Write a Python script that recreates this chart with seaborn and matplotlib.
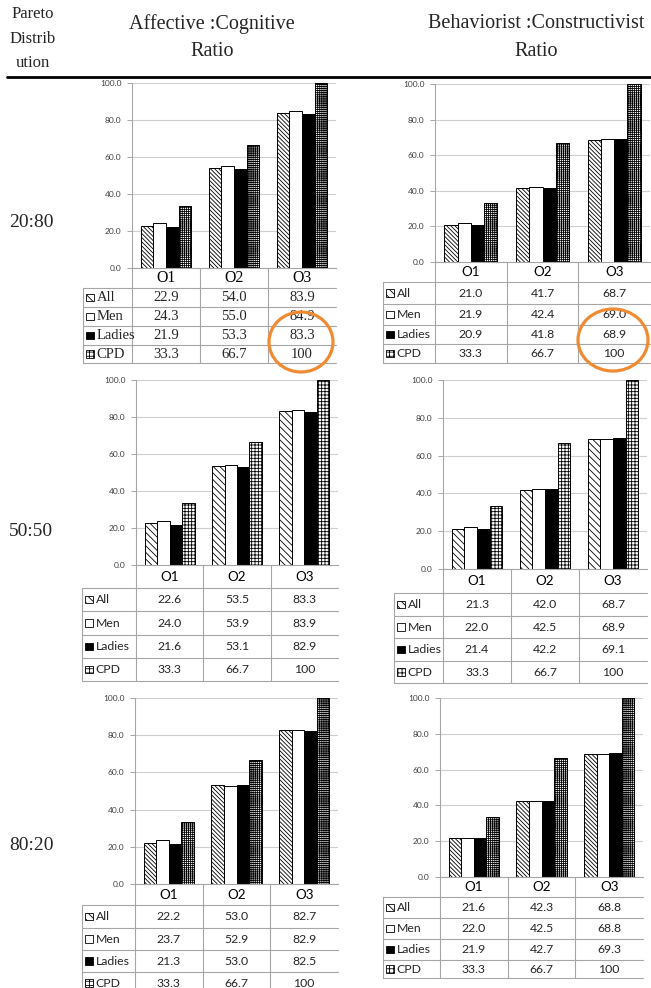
import numpy as np
import pandas as pd
import matplotlib
matplotlib.use("Agg")
import matplotlib.pyplot as plt
from matplotlib.patches import Rectangle, Ellipse
import seaborn as sns

# ================= DATOS =================
categories = ["O1", "O2", "O3"]
series = ["All", "Men", "Ladies", "CPD"]
ratios = ["20:80", "50:50", "80:20"]

# Affective : Cognitive  (filas: All, Men, Ladies, CPD)
ac_20_80 = [[22.9, 54.0, 83.9], [24.3, 55.0, 84.9], [21.9, 53.3, 83.3], [33.3, 66.7, 100]]
ac_50_50 = [[22.6, 53.5, 83.3], [24.0, 53.9, 83.9], [21.6, 53.1, 82.9], [33.3, 66.7, 100]]
ac_80_20 = [[22.2, 53.0, 82.7], [23.7, 52.9, 82.9], [21.3, 53.0, 82.5], [33.3, 66.7, 100]]
# Behaviorist : Constructivist
bc_20_80 = [[21.0, 41.7, 68.7], [21.9, 42.4, 69.0], [20.9, 41.8, 68.9], [33.3, 66.7, 100]]
bc_50_50 = [[21.3, 42.0, 68.7], [22.0, 42.5, 68.9], [21.4, 42.2, 69.1], [33.3, 66.7, 100]]
bc_80_20 = [[21.6, 42.3, 68.8], [22.0, 42.5, 68.8], [21.9, 42.7, 69.3], [33.3, 66.7, 100]]

# ================= LAYOUT (pixeles) =================
W, H = 651, 988
SERIF = "Liberation Serif"
SANS = "Lato"
LINE = "#a6a6a6"
DENSE = ("\\" * 8, "+" * 8)
SPARSE = ("\\" * 5, "+" * 5)

# valores, x0, x1, y_top, y_zero, filas de la tabla, borde izq, fuente, hatches
panels = [
    (ac_20_80, 132, 336, 83, 268, [268, 288, 307, 326, 345, 363], 83, SERIF, DENSE),
    (bc_20_80, 435, 650, 84, 262, [262, 282, 304, 325, 344, 363], 383, SANS, DENSE),
    (ac_50_50, 136, 338, 380, 565, [565, 588, 611, 635, 658, 681], 82, SANS, SPARSE),
    (bc_50_50, 443, 647, 380, 569, [569, 593, 616, 638, 661, 683], 394, SANS, SPARSE),
    (ac_80_20, 135, 338, 698, 884, [884, 905, 928, 950, 972, 994], 82, SANS, DENSE),
    (bc_80_20, 440, 643, 698, 877, [877, 897, 918, 939, 960, 978], 383, SANS, DENSE),
]

sns.set_theme(style="white")
plt.rcParams["hatch.linewidth"] = 0.6

fig = plt.figure(figsize=(W / 100, H / 100), dpi=100)

# lienzo en coordenadas de pixel para texto, tablas y anotaciones
cv = fig.add_axes([0, 0, 1, 1])
cv.set_xlim(0, W)
cv.set_ylim(H, 0)
cv.axis("off")
cv.patch.set_visible(False)
cv.set_zorder(5)


def fmt(v):
    return "100" if v == 100 else f"{v:.1f}"


def draw_panel(values, x0, x1, yt, y0, rows, left, fam, hatches):
    ax = fig.add_axes([x0 / W, 1 - y0 / H, (x1 - x0) / W, (y0 - yt) / H])
    ax.patch.set_visible(False)
    recs = []
    for si, s in enumerate(series):
        for ci, c in enumerate(categories):
            recs.append({"cat": c, "series": s, "val": values[si][ci]})
    df = pd.DataFrame(recs)
    sns.barplot(data=df, x="cat", y="val", hue="series", order=categories, hue_order=series,
                palette=["white", "white", "black", "white"], saturation=1,
                edgecolor="black", linewidth=0.7, width=0.74, gap=0, legend=False, ax=ax)
    for cont, h in zip(ax.containers, [hatches[0], None, None, hatches[1]]):
        for bar in cont:
            bar.set_hatch(h)
    ax.set_xlim(-0.5, 2.5)
    ax.set_ylim(0, 100)
    ticks = [0, 20, 40, 60, 80, 100]
    ax.set_yticks(ticks)
    ax.set_yticklabels([f"{t:.1f}" for t in ticks], fontfamily=SANS)
    ax.set_xlabel("")
    ax.set_ylabel("")
    ax.grid(axis="y", color="#cfcfcf", lw=0.8)
    ax.set_axisbelow(True)
    for sp in ["top", "right"]:
        ax.spines[sp].set_visible(False)
    for sp in ["left", "bottom"]:
        ax.spines[sp].set_color(LINE)
        ax.spines[sp].set_linewidth(0.8)
    ax.tick_params(axis="y", length=3.5, width=0.7, color=LINE, pad=4,
                   labelsize=6.0, labelcolor="#404040", left=True)
    ax.tick_params(axis="x", length=0, labelbottom=False)

    # tabla de datos
    cw = (x1 - x0) / 3
    fs = 10.5 if fam == SERIF else 8.8
    for r in rows[1:]:
        cv.plot([left, x1], [r, r], color=LINE, lw=0.8)
    cv.plot([x0, x0], [rows[0], rows[-1]], color=LINE, lw=0.8)
    cv.plot([left, left], [rows[1], rows[-1]], color=LINE, lw=0.8)
    for k in (1, 2):
        cv.plot([x0 + k * cw] * 2, [rows[0], rows[-1]], color=LINE, lw=0.8)
    for ci, c in enumerate(categories):
        cv.text(x0 + (ci + 0.5) * cw, (rows[0] + rows[1]) / 2, c, ha="center", va="center",
                fontsize=fs + 0.8, fontfamily=fam, color="black")
    icon_fc = ["white", "white", "black", "white"]
    icon_h = [hatches[0][:4], None, None, hatches[1][:4]]
    for si, s in enumerate(series):
        yc = (rows[si + 1] + rows[si + 2]) / 2
        cv.add_patch(Rectangle((left + 3, yc - 3.8), 7.6, 7.6, facecolor=icon_fc[si],
                               edgecolor="black", lw=0.6, hatch=icon_h[si]))
        cv.text(left + 13.5, yc, s, ha="left", va="center", fontsize=fs, fontfamily=fam)
        for ci in range(3):
            cv.text(x0 + (ci + 0.5) * cw, yc, fmt(values[si][ci]), ha="center", va="center",
                    fontsize=fs, fontfamily=fam)


for p in panels:
    draw_panel(*p)

# encabezados
cv.plot([7, W], [77, 77], color="black", lw=2.0)
for y, t in zip([14, 39, 63], ["Pareto", "Distrib", "ution"]):
    cv.text(33, y, t, ha="center", va="center", fontsize=12, fontfamily=SERIF)
cv.text(212, 24, "Affective :Cognitive", ha="center", va="center", fontsize=14.5, fontfamily=SERIF)
cv.text(212, 52, "Ratio", ha="center", va="center", fontsize=14.5, fontfamily=SERIF)
cv.text(536, 24, "Behaviorist :Constructivist", ha="center", va="center", fontsize=14.5, fontfamily=SERIF)
cv.text(536, 52, "Ratio", ha="center", va="center", fontsize=14.5, fontfamily=SERIF)
for y, t in zip([222, 531, 845], ratios):
    cv.text(31, y, t, ha="center", va="center", fontsize=14, fontfamily=SERIF)

# circulos naranjas
for cx, cy, w, h in [(301, 342, 64, 60), (613, 340, 70, 62)]:
    cv.add_patch(Ellipse((cx, cy), w, h, fill=False, edgecolor="#EF8B33", lw=2.3, zorder=10))

fig.savefig("out.png", dpi=100)
